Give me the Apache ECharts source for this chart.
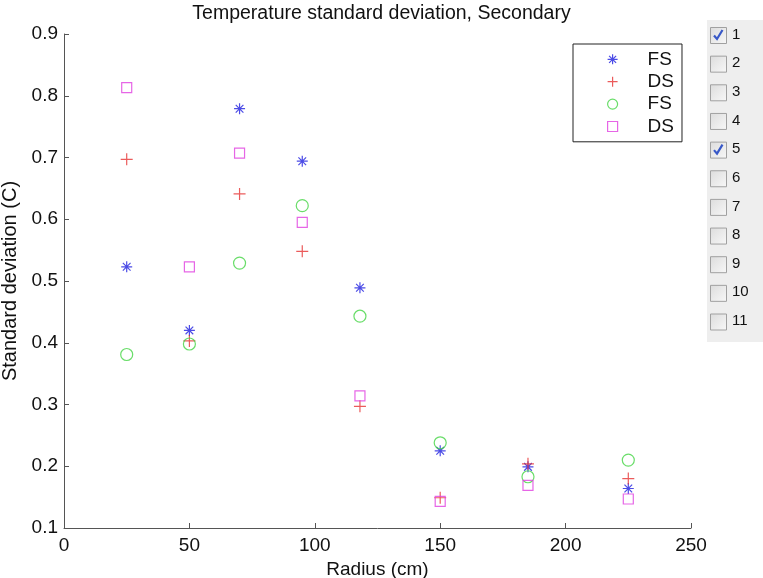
<!DOCTYPE html>
<html>
<head>
<meta charset="utf-8">
<script src="https://cdn.jsdelivr.net/npm/echarts@6/dist/echarts.min.js"></script>
<style>
html,body{margin:0;padding:0;background:#fff;}
#chart{width:763px;height:578px;}
</style>
</head>
<body>
<div id="chart"></div>
<script>
// ---- data ----
const radius = [25, 50, 70, 95, 118, 150, 185, 225];
const fs1 = [0.523, 0.420, 0.779, 0.694, 0.489, 0.225, 0.199, 0.164];
const ds1 = [0.697, 0.403, 0.641, 0.548, 0.297, 0.149, 0.204, 0.180];
const fs5 = [0.381, 0.398, 0.529, 0.622, 0.443, 0.238, 0.183, 0.210];
const ds5 = [0.813, 0.523, 0.707, 0.595, 0.314, 0.143, 0.169, 0.147];
const seriesNames = ['FS', 'DS', 'FS\u200b', 'DS\u200b'];
const checkLabels = ['1','2','3','4','5','6','7','8','9','10','11'];
const checked = [true,false,false,false,true,false,false,false,false,false,false];
const titleText = 'Temperature standard deviation, Secondary';
const xName = 'Radius (cm)';
const yName = 'Standard deviation (C)';

const FONT = "'Liberation Sans', Arial, Helvetica, sans-serif";
const pair = (ys) => radius.map((x, i) => [x, ys[i]]);

const starPath = 'path://M0,-10L0,10M-10,0L10,0M-7,-7L7,7M-7,7L7,-7';
const plusPath = 'path://M0,-10L0,10M-10,0L10,0';
const squarePath = 'path://M0,0L10,0L10,10L0,10Z';

const styles = [
  {symbol: starPath, size: 11, color: '#1f1fe0'},
  {symbol: plusPath, size: 12, color: '#e63232'},
  {symbol: 'circle', size: 12, color: '#44d444'},
  {symbol: squarePath, size: 10, color: '#e040e0'}
];
const dataSets = [fs1, ds1, fs5, ds5];

const series = dataSets.map((d, k) => ({
  type: 'scatter',
  name: seriesNames[k],
  data: pair(d),
  symbol: styles[k].symbol,
  symbolSize: styles[k].size,
  itemStyle: {color: 'rgba(0,0,0,0)', borderColor: styles[k].color, borderWidth: 1.2},
  emphasis: {disabled: true},
  z: 3 + k
}));

// right-side checkbox panel
const panel = [];
panel.push({type: 'rect', left: 707, top: 20, shape: {width: 56, height: 322}, style: {fill: '#eeeeee'}, silent: true});
const rowTop0 = 27, rowStep = 28.65;
checkLabels.forEach((lab, i) => {
  const y = rowTop0 + i * rowStep;
  panel.push({type: 'rect', left: 710, top: y, shape: {width: 16, height: 16},
    style: {fill: new echarts.graphic.LinearGradient(0,0,1,1,[{offset:0,color:'#dcdcdc'},{offset:1,color:'#f8f8f8'}]), stroke: '#a0a0a0', lineWidth: 1}, silent: true});
  if (checked[i]) {
    panel.push({type: 'polyline', x: 710, y: y, shape: {points: [[4,8.5],[7,12],[12.5,3]]},
      style: {stroke: '#3858c8', lineWidth: 2.2, fill: null}, silent: true});
  }
  panel.push({type: 'text', left: 732, top: y, style: {text: lab, fontSize: 15, fontFamily: FONT, fill: '#111'}, silent: true});
});

const chart = echarts.init(document.getElementById('chart'), null, {renderer: 'canvas'});
chart.setOption({
  backgroundColor: '#ffffff',
  animation: false,
  title: {text: titleText, left: 'center', top: 4, padding: 0,
    textStyle: {fontFamily: FONT, fontSize: 19.5, fontWeight: 'normal', color: '#111'}},
  grid: {left: 64, right: 72, top: 34, bottom: 50, containLabel: false, outerBoundsMode: 'none'},
  legend: {
    orient: 'vertical', left: 573, top: 44,
    padding: [5.8, 8, 5.8, 34],
    itemWidth: 60, itemHeight: 10, itemGap: 3.4,
    borderColor: '#222', borderWidth: 1, backgroundColor: '#fff',
    data: seriesNames,
    itemStyle: {borderWidth: 1.2},
    selectedMode: false,
    textStyle: {fontFamily: FONT, fontSize: 19, lineHeight: 19, color: '#111'}
  },
  xAxis: {
    type: 'value', min: 0, max: 250, interval: 50,
    name: xName, nameLocation: 'middle', nameGap: 31,
    nameTextStyle: {fontFamily: FONT, fontSize: 19, color: '#111'},
    axisLine: {show: true, lineStyle: {color: '#555', width: 1}},
    axisTick: {show: true, inside: true, length: 5, lineStyle: {color: '#555'}},
    axisLabel: {fontFamily: FONT, fontSize: 19, color: '#111', margin: 8},
    splitLine: {show: false}
  },
  yAxis: {
    type: 'value', min: 0.1, max: 0.9, interval: 0.1,
    name: yName, nameLocation: 'middle', nameGap: 38, nameRotate: 90,
    nameTextStyle: {fontFamily: FONT, fontSize: 20, color: '#111'},
    axisLine: {show: true, lineStyle: {color: '#555', width: 1}},
    axisTick: {show: true, inside: true, length: 5, lineStyle: {color: '#555'}},
    axisLabel: {fontFamily: FONT, fontSize: 19, color: '#111', margin: 6,
      formatter: (v) => v.toFixed(1)},
    splitLine: {show: false}
  },
  graphic: panel,
  series: series
});
</script>
</body>
</html>
